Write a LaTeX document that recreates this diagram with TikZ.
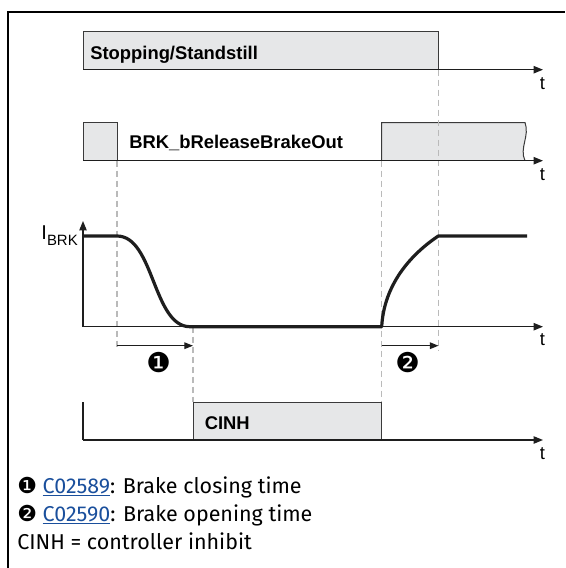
\documentclass[tikz,border=0pt]{standalone}
\usepackage{fontspec}
\setmainfont{Fira Sans}
\newfontfamily\arialfont{Liberation Sans}
\newfontfamily\dingfont{DejaVu Sans}
\usepackage{xcolor}
\usetikzlibrary{arrows.meta}
\definecolor{BoxGray}{HTML}{E6E7E8}
\definecolor{BoxLine}{HTML}{3A3A3A}
\definecolor{GuideGray}{HTML}{BABABA}
\definecolor{LinkBlue}{HTML}{1A4F9C}
\definecolor{Ink}{HTML}{1E1E1E}
\newcommand{\plink}[1]{\textcolor{LinkBlue}{\underline{#1}}}

\begin{document}
\begin{tikzpicture}[
  x=0.75pt,y=-0.75pt,
  axis/.style={draw=Ink,line width=0.9pt,-{Triangle[length=7pt,width=5.5pt]}},
  span/.style={draw=Ink,line width=0.9pt,-{Triangle[length=6.5pt,width=5pt]}},
  guide/.style={draw=GuideGray,line width=0.8pt,dash pattern=on 4.5pt off 3pt},
  level/.style={draw=BoxLine,fill=BoxGray,line width=0.75pt},
  curve/.style={draw=Ink,line width=2.4pt,line join=round},
  sig/.style={font=\arialfont\bfseries\fontsize{13.8}{14}\selectfont,
    anchor=west,inner sep=0pt},
  tlbl/.style={font=\arialfont\fontsize{13.8}{14}\selectfont,inner sep=0pt},
  stepmark/.style={font=\dingfont\fontsize{20.5}{20}\selectfont,inner sep=0pt},
  note/.style={font=\fontsize{16.1}{16}\selectfont,anchor=base west,inner sep=0pt}
]
  \useasboundingbox (0,0) rectangle (565,568);
  \draw[line width=1.5pt] (7.5,568) -- (7.5,12) -- (565,12);

  % signal levels
  \draw[level] (83,69.7) rectangle (438.5,31.7);
  \draw[level] (83,160.7) rectangle (117,122.7);
  \draw[level] (381.5,160.7) -- (381.5,122.5) -- (525,122.5)
    .. controls (530,136) and (519,148) .. (525,160.7);
  \draw[level] (193,440) rectangle (381.5,402.3);

  \draw[guide] (117,160.7) -- (117,350);
  \draw[guide] (438.5,69.7) -- (438.5,350);
  \draw[guide] (193,326.7) -- (193,402.3);
  \draw[guide] (381.5,160.7) -- (381.5,402.3);

  \node[sig] (stop) at (90,55) {Stopping/Standstill};
  \node[sig] (brk) at (129,143) {BRK\_bReleaseBrakeOut};
  \node[sig] (cinh) at (204.5,423.3) {CINH};

  % time axes
  \draw[axis] (83,69.7) -- (543,69.7);
  \draw[axis] (83,160.7) -- (543,160.7);
  \draw[axis] (83,326.7) -- (543,326.7);
  \draw[axis] (83,326.7) -- (83,221);
  \draw[axis] (83,440) -- (543,440);
  \draw[draw=Ink,line width=0.9pt] (83,402.3) -- (83,440);
  \node[tlbl] (t1) at (542.5,84) {t};
  \node[tlbl] (t2) at (542.5,175) {t};
  \node[tlbl] (t3) at (542.5,340) {t};
  \node[tlbl] (t4) at (542.5,453.3) {t};
  \node[font=\arialfont\fontsize{15}{15}\selectfont,inner sep=0pt,anchor=east]
    (ibrk) at (78,236) {I\raisebox{-0.55ex}{\fontsize{11.2}{11}\selectfont BRK}};

  % brake current
  \draw[curve] (83,236) -- (117,236)
    .. controls (154,236) and (153,326.7) .. (190,326.7) -- (381.7,326.7)
    .. controls (384,285) and (410,255) .. (438.3,236) -- (527,236);

  \draw[span] (117,345.7) -- (193,345.7);
  \draw[span] (381.5,345.7) -- (438.5,345.7);
  \node[stepmark] (m1) at (158.6,362.7) {❶};
  \node[stepmark] (m2) at (407.5,363) {❷};

  \node[note] (n1) at (17,493)
    {{\dingfont\fontsize{16.5}{16}\selectfont ❶} \plink{C02589}: Brake closing time};
  \node[note] (n2) at (17,521)
    {{\dingfont\fontsize{16.5}{16}\selectfont ❷} \plink{C02590}: Brake opening time};
  \node[note] (n3) at (17,549) {CINH = controller inhibit};
\end{tikzpicture}
\end{document}
